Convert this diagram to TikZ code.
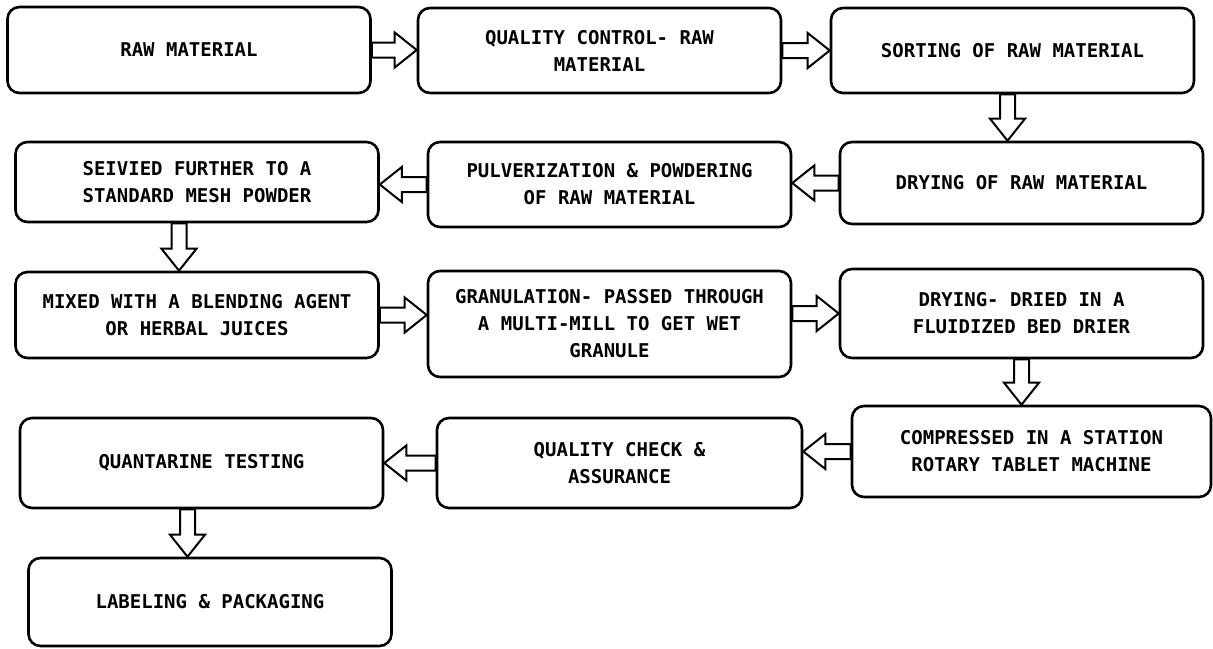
\documentclass[tikz,border=0pt]{standalone}
\usepackage{fontspec}
\setmonofont{DejaVu Sans Mono}
\usetikzlibrary{calc}

\tikzset{
  stage/.style={draw, line width=1.3pt, rounded corners=6pt, fill=white,
    minimum width=181.5pt, inner sep=0pt, align=center,
    font=\ttfamily\bfseries\fontsize{9.5}{13.5}\selectfont},
  flow/.style={draw, line width=1pt, fill=white, line join=miter, to path={
    let \p1=($(\tikztotarget)!11pt!(\tikztostart)$) in
    ($(\tikztostart)!3.75pt!90:(\tikztotarget)$)
    -- ($(\p1)!3.75pt!-90:(\tikztostart)$)
    -- ($(\p1)!8.75pt!-90:(\tikztostart)$)
    -- (\tikztotarget)
    -- ($(\p1)!8.75pt!90:(\tikztostart)$)
    -- ($(\p1)!3.75pt!90:(\tikztostart)$)
    -- ($(\tikztostart)!3.75pt!-90:(\tikztotarget)$) -- cycle}}
}

\begin{document}
\begin{tikzpicture}[x=0.5pt, y=-0.5pt]
		%%%%% START %%%%%
		\useasboundingbox (0,0) rectangle (1213,648);
		
		\node[stage, minimum height=43pt] (b1) at (189,50) {RAW MATERIAL};
		\node[stage, minimum height=42.5pt] (b2) at (599.5,50.5) {QUALITY CONTROL- RAW\\MATERIAL};
		\node[stage, minimum height=42.5pt] (b3) at (1012.5,50.5) {SORTING OF RAW MATERIAL};
		
		\node[stage, minimum height=40pt] (b4) at (197,182) {SEIVIED FURTHER TO A\\STANDARD MESH POWDER};
		\node[stage, minimum height=42.5pt] (b5) at (609.5,184.5) {PULVERIZATION \& POWDERING\\OF RAW MATERIAL};
		\node[stage, minimum height=41pt] (b6) at (1021.5,183) {DRYING OF RAW MATERIAL};
		
		\node[stage, minimum height=43pt] (b7) at (197,315) {MIXED WITH A BLENDING AGENT\\OR HERBAL JUICES};
		\node[stage, minimum height=53pt] (b8) at (609.5,324) {GRANULATION- PASSED THROUGH\\A MULTI-MILL TO GET WET\\GRANULE};
		\node[stage, minimum height=44.5pt] (b9) at (1021.5,313.5) {DRYING- DRIED IN A\\FLUIDIZED BED DRIER};
		
		\node[stage, minimum height=45pt] (b10) at (201.5,463) {QUANTARINE TESTING};
		\node[stage, minimum height=45pt, minimum width=182.5pt] (b11) at (619.5,463) {QUALITY CHECK \&\\ASSURANCE};
		\node[stage, minimum height=45.5pt, minimum width=179.5pt] (b12) at (1031.5,451.5) {COMPRESSED IN A STATION\\ROTARY TABLET MACHINE};
		
		\node[stage, minimum height=44pt] (b13) at (210,602) {LABELING \& PACKAGING};
		
		% arrows
		\coordinate (c3) at ([xshift=-2.5pt]b3.south);
		\coordinate (c4) at ([xshift=-9pt]b4.south);
		\coordinate (c10) at ([xshift=-7pt]b10.south);
		
		\draw[flow] (b1.east) to (b1.east -| b2.west);
		\draw[flow] (b2.east) to (b2.east -| b3.west);
		\draw[flow] (c3) to (c3 |- b6.north);
		\draw[flow] (b6.west) to (b6.west -| b5.east);
		\draw[flow] (b5.west) to (b5.west -| b4.east);
		\draw[flow] (c4) to (c4 |- b7.north);
		\draw[flow] (b7.east) to (b7.east -| b8.west);
		\draw[flow] (b9.west -| b8.east) to (b9.west);
		\draw[flow] (b9.south) to (b9.south |- b12.north);
		\draw[flow] (b12.west) to (b12.west -| b11.east);
		\draw[flow] (b11.west) to (b11.west -| b10.east);
		\draw[flow] (c10) to (c10 |- b13.north);
		
		%%%%% END %%%%%
\end{tikzpicture}
\end{document}
